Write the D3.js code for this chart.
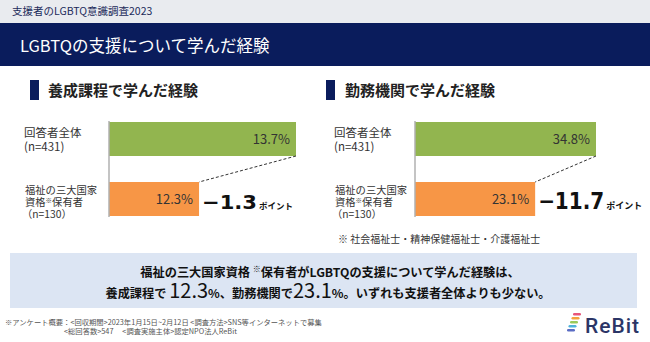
<!DOCTYPE html>
<html>
<head>
<meta charset="utf-8">
<script src="https://cdn.jsdelivr.net/npm/d3@7"></script>
<style>
  body { margin: 0; background: #fff; }
  svg { display: block; font-family: "Noto Sans CJK JP", "Noto Sans", sans-serif; }
</style>
</head>
<body>
<svg width="650" height="342"></svg>
<script>
// ***********************************
// Data
var surveyTitle = "支援者のLGBTQ意識調査2023";
var chartTitle = "LGBTQの支援について学んだ経験";
var panelTitles = ["養成課程で学んだ経験", "勤務機関で学んだ経験"];
var groups = ["all", "holders"];
var trainingValues = [13.7, 12.3];   // 養成課程
var workplaceValues = [34.8, 23.1];  // 勤務機関
var diffLabels = ["−1.3", "−11.7"];
var footnote = "※ 社会福祉士・精神保健福祉士・介護福祉士";
var surveyNotes = [
  "※アンケート概要：<回収期間>2023年1月15日~2月12日 <調査方法>SNS等インターネットで募集",
  "<総回答数>547　 <調査実施主体>認定NPO法人ReBit"
];

var svg = d3.select("svg"),
  width = +svg.attr("width"),
  height = +svg.attr("height");

var navy = "#0a1c5c",
  green = "#92b54f",
  orange = "#f79646",
  textGray = "#333";

// ***********************************
// Header bands
svg.append("rect").attr("width", width).attr("height", 23).attr("fill", "#e9ebef");
svg.append("text")
  .attr("x", 12).attr("y", 15)
  .attr("font-size", 10.5).attr("fill", "#1c2a5a")
  .text(surveyTitle);

svg.append("rect").attr("y", 23).attr("width", width).attr("height", 43).attr("fill", navy);
svg.append("text")
  .attr("x", 20).attr("y", 52)
  .attr("font-size", 16.5).attr("fill", "#fff")
  .text(chartTitle);

// ***********************************
// Bar panels
var yBand = d3.scaleBand()
  .domain(groups)
  .range([122, 216])
  .paddingInner(0.4333);

// the left panel's axis is truncated in the original figure
var panels = [
  { values: trainingValues, x: d3.scaleLinear().domain([11, 13.7]).range([109, 296]),
    titleX: 48, markX: 30, labelX: 24, diffSize: 20, diffLen: 55, unitSize: 8.5 },
  { values: workplaceValues, x: d3.scaleLinear().domain([0, 34.8]).range([415, 596]),
    titleX: 345, markX: 326, labelX: 334, diffSize: 23, diffLen: 66, unitSize: 9 }
];

panels.forEach(function(p, i) {
  var g = svg.append("g");

  // heading with the small navy marker
  g.append("rect").attr("x", p.markX).attr("y", 80).attr("width", 9).attr("height", 20).attr("fill", navy);
  g.append("text")
    .attr("x", p.titleX).attr("y", 96)
    .attr("font-size", 15).attr("font-weight", "bold").attr("fill", "#222")
    .text(panelTitles[i]);

  // category labels
  var lab1 = g.append("text").attr("font-size", 11.5).attr("fill", textGray);
  lab1.append("tspan").attr("x", p.labelX).attr("y", 137).text("回答者全体");
  lab1.append("tspan").attr("x", p.labelX).attr("y", 151).text("(n=431)");

  var lab2 = g.append("text").attr("font-size", 10.3).attr("fill", textGray);
  lab2.append("tspan").attr("x", p.labelX + 1).attr("y", 194).text("福祉の三大国家");
  lab2.append("tspan").attr("x", p.labelX + 1).attr("y", 206).text("資格");
  lab2.append("tspan").attr("dy", -3).attr("font-size", 6.5).text("※");
  lab2.append("tspan").attr("dy", 3).text("保有者");
  lab2.append("tspan").attr("x", p.labelX - 2).attr("y", 218).text("（n=130）");

  // bars
  g.selectAll(".bar")
    .data(p.values)
    .enter().append("rect")
    .attr("class", "bar")
    .attr("x", p.x.range()[0])
    .attr("y", function(d, j) { return yBand(groups[j]); })
    .attr("width", function(d) { return p.x(d) - p.x.range()[0]; })
    .attr("height", yBand.bandwidth())
    .attr("fill", function(d, j) { return j === 0 ? green : orange; });

  // axis line
  g.append("line")
    .attr("x1", p.x.range()[0]).attr("x2", p.x.range()[0])
    .attr("y1", 121).attr("y2", 217)
    .attr("stroke", "#b0b0b0").attr("stroke-width", 1.5);

  // value labels
  g.selectAll(".val")
    .data(p.values)
    .enter().append("text")
    .attr("class", "val")
    .attr("x", function(d) { return p.x(d) - 6; })
    .attr("y", function(d, j) { return yBand(groups[j]) + yBand.bandwidth() / 2 + 5; })
    .attr("text-anchor", "end")
    .attr("font-size", 13).attr("fill", textGray)
    .text(function(d) { return d.toFixed(1) + "%"; });

  // dashed connector from first bar end to second bar end
  g.append("line")
    .attr("x1", p.x(p.values[0])).attr("y1", yBand(groups[0]) + yBand.bandwidth())
    .attr("x2", p.x(p.values[1])).attr("y2", yBand(groups[1]))
    .attr("stroke", "#333").attr("stroke-width", 1).attr("stroke-dasharray", "3,2");

  // difference label
  var dx0 = p.x(p.values[1]) + 3;
  g.append("text")
    .attr("x", dx0).attr("y", 209)
    .attr("font-family", "'DejaVu Sans', sans-serif")
    .attr("font-size", p.diffSize).attr("font-weight", "bold").attr("fill", "#111")
    .attr("textLength", p.diffLen).attr("lengthAdjust", "spacingAndGlyphs")
    .text(diffLabels[i]);
  g.append("text")
    .attr("x", dx0 + p.diffLen + 2).attr("y", 209)
    .attr("font-size", p.unitSize).attr("font-weight", "bold").attr("fill", "#111")
    .text("ポイント");
});

svg.append("text")
  .attr("x", 338).attr("y", 243)
  .attr("font-size", 10).attr("fill", textGray)
  .text(footnote);

// ***********************************
// Summary box
svg.append("rect")
  .attr("x", 10).attr("y", 253).attr("width", 627).attr("height", 55)
  .attr("fill", "#dce5f3");

var s1 = svg.append("text")
  .attr("x", 330).attr("y", 277).attr("text-anchor", "middle")
  .attr("font-size", 12.2).attr("font-weight", "bold").attr("fill", "#111");
s1.append("tspan").text("福祉の三大国家資格 ");
s1.append("tspan").attr("font-size", 8).attr("dy", -5).text("※");
s1.append("tspan").attr("dy", 5).text("保有者がLGBTQの支援について学んだ経験は、");

var s2 = svg.append("text")
  .attr("x", 328).attr("y", 298).attr("text-anchor", "middle")
  .attr("font-weight", "bold").attr("fill", "#111").attr("font-size", 12.2);
s2.append("tspan").text("養成課程で ");
s2.append("tspan").attr("font-size", 20).attr("font-weight", "normal").text(trainingValues[1].toFixed(1));
s2.append("tspan").text("%、勤務機関で");
s2.append("tspan").attr("font-size", 20).attr("font-weight", "normal").text(workplaceValues[1].toFixed(1));
s2.append("tspan").text("%。いずれも支援者全体よりも少ない。");

// ***********************************
// Footer notes and logo
svg.append("text").attr("x", 5).attr("y", 325)
  .attr("font-size", 7.3).attr("fill", "#555").text(surveyNotes[0]);
svg.append("text").attr("x", 64).attr("y", 334)
  .attr("font-size", 7.3).attr("fill", "#555").text(surveyNotes[1]);

var logoColors = ["#e8567a", "#f4a23c", "#9acb5a", "#4fb3d9", "#5a6cc4"];
var logo = svg.append("g").attr("transform", "translate(567,313)");
logoColors.forEach(function(c, k) {
  logo.append("rect")
    .attr("x", 6 - k * 1.5).attr("y", k * 4)
    .attr("width", 8).attr("height", 2.6).attr("rx", 1.3)
    .attr("fill", c);
});
svg.append("text")
  .attr("x", 585).attr("y", 333)
  .attr("font-family", "Roboto, sans-serif").attr("font-size", 21).attr("font-weight", "500")
  .attr("fill", "#2b3566").attr("letter-spacing", 1)
  .text("ReBit");
</script>
</body>
</html>
